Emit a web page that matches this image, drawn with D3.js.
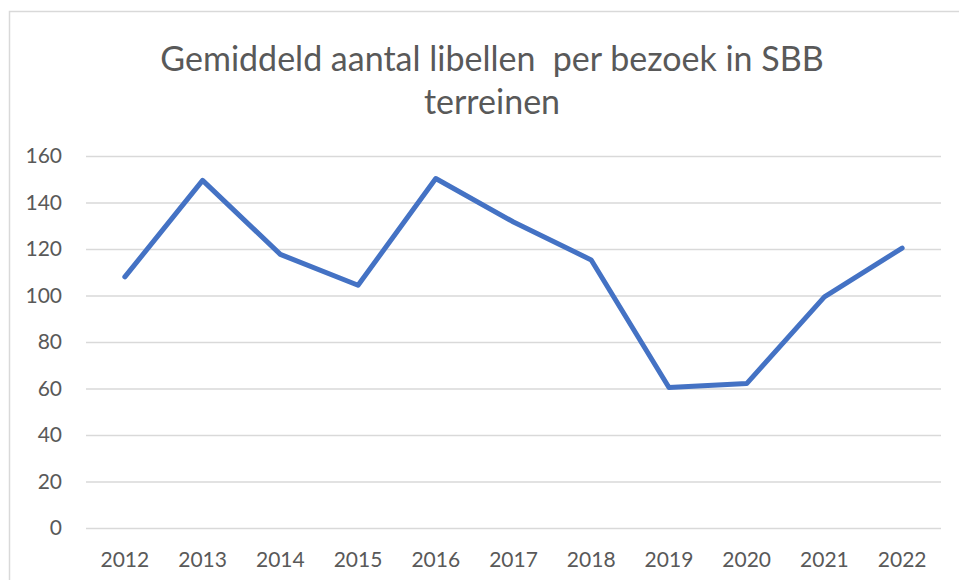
<!DOCTYPE html>
<html>
<head>
<meta charset="utf-8">
<script src="https://cdn.jsdelivr.net/npm/d3@7"></script>
<style>
  body { margin: 0; background: #fff; }
  svg { display: block; font-family: Lato, "Open Sans", sans-serif; }
  .tick text { fill: #595959; }
</style>
</head>
<body>
<svg id="chart" width="959" height="580"></svg>
<script>
const years = ["2012", "2013", "2014", "2015", "2016", "2017", "2018", "2019", "2020", "2021", "2022"];
const values = [108, 149.5, 117.7, 104.4, 150.3, 131.6, 115.3, 60.4, 62.1, 99.4, 120.4];
const yTicks = [0, 20, 40, 60, 80, 100, 120, 140, 160];
const titleLines = ["Gemiddeld aantal libellen\u00a0 per bezoek in SBB", "terreinen"];

const svg = d3.select("#chart");
const margin = { top: 156, right: 18, bottom: 52, left: 86 };
const width = +svg.attr("width") - margin.left - margin.right;
const height = +svg.attr("height") - margin.top - margin.bottom;

// chart area border (cut off at right and bottom like the screenshot)
svg.append("rect")
  .attr("x", 9.5).attr("y", 11.5)
  .attr("width", 980).attr("height", 600)
  .attr("fill", "none")
  .attr("stroke", "#d9d9d9")
  .attr("stroke-width", 1.5);

svg.append("text")
  .attr("text-anchor", "middle")
  .attr("fill", "#595959")
  .style("font-size", "34px")
  .selectAll("tspan")
  .data(titleLines)
  .join("tspan")
  .attr("x", 492)
  .attr("y", (d, i) => 71 + i * 43)
  .text(d => d);

const g = svg.append("g").attr("transform", `translate(${margin.left},${margin.top})`);

const x = d3.scaleBand().domain(years).range([0, width]);
const y = d3.scaleLinear().domain([0, 160]).range([height, 0]);

const yAxis = g.append("g")
  .call(d3.axisLeft(y).tickValues(yTicks).tickSize(-width).tickPadding(24));
yAxis.attr("font-family", null);
yAxis.select(".domain").remove();
yAxis.selectAll(".tick line").attr("stroke", "#d9d9d9").attr("stroke-width", 1.5);
yAxis.selectAll(".tick text").style("font-size", "21px");

const xAxis = g.append("g")
  .attr("transform", `translate(0,${height})`)
  .call(d3.axisBottom(x).tickSize(0).tickPadding(24));
xAxis.attr("font-family", null);
xAxis.select(".domain").remove();
xAxis.selectAll(".tick text").style("font-size", "21px");

const line = d3.line()
  .x((d, i) => x(years[i]) + x.bandwidth() / 2)
  .y(d => y(d));

g.append("path")
  .datum(values)
  .attr("d", line)
  .attr("fill", "none")
  .attr("stroke", "#4472c4")
  .attr("stroke-width", 5)
  .attr("stroke-linejoin", "round")
  .attr("stroke-linecap", "round");
</script>
</body>
</html>
